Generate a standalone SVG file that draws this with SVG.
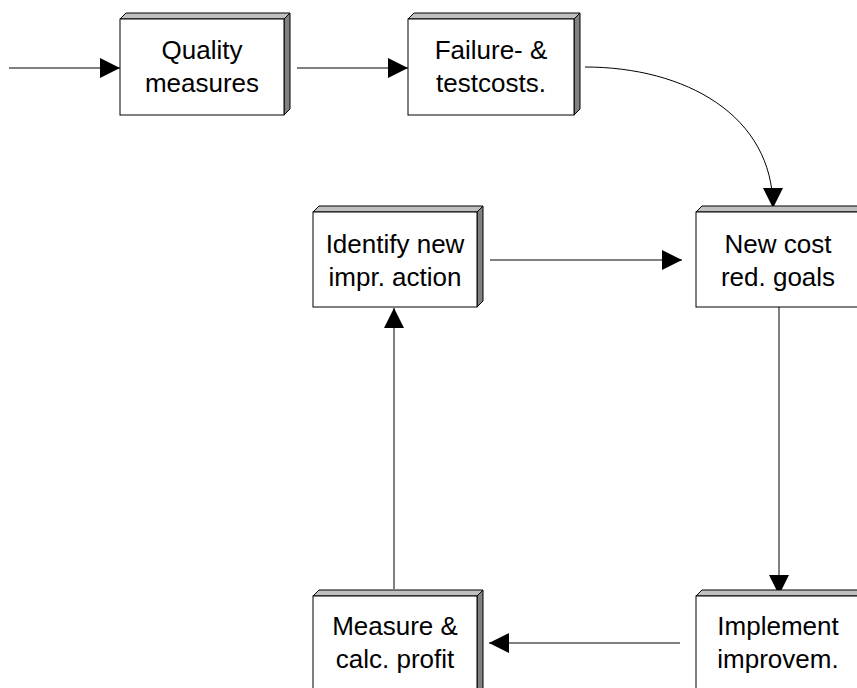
<svg xmlns="http://www.w3.org/2000/svg" width="857" height="688" viewBox="0 0 857 688">
<style>
.front{fill:#ffffff;stroke:#000;stroke-width:1}
.top{fill:#c0c0c0;stroke:#000;stroke-width:1}
.side{fill:#808080;stroke:#000;stroke-width:1}
.lbl{font-family:"Liberation Sans",Arial,sans-serif;font-size:26px;fill:#000;text-anchor:middle}
.conn{fill:none;stroke:#000;stroke-width:1}
</style>
<defs>
<marker id="arr" markerUnits="userSpaceOnUse" markerWidth="20" markerHeight="20" refX="20" refY="10" orient="auto">
<path d="M0,0 L20,10 L0,20 z" fill="#000"/>
</marker>
</defs>
<rect width="857" height="688" fill="#fff"/>
<g id="connectors">
<path class="conn" d="M9,68 H120" marker-end="url(#arr)"/>
<path class="conn" d="M297,68 H408" marker-end="url(#arr)"/>
<path class="conn" d="M585,67 C685,67 773,115 773,208" marker-end="url(#arr)"/>
<path class="conn" d="M490,260 H682" marker-end="url(#arr)"/>
<path class="conn" d="M779,307 V595" marker-end="url(#arr)"/>
<path class="conn" d="M680,643 H489" marker-end="url(#arr)"/>
<path class="conn" d="M394,589 V308" marker-end="url(#arr)"/>
</g>
<g id="quality">
<polygon class="top" points="120,19 126,13 290,13 284,19"/>
<polygon class="side" points="284,19 290,13 290,109 284,115"/>
<rect class="front" x="120" y="19" width="164" height="96"/>
<text class="lbl" x="202" y="59">Quality</text>
<text class="lbl" x="202" y="92">measures</text>
</g>
<g id="failure">
<polygon class="top" points="408,19 414,13 580,13 574,19"/>
<polygon class="side" points="574,19 580,13 580,109 574,115"/>
<rect class="front" x="408" y="19" width="166" height="96"/>
<text class="lbl" x="491" y="59">Failure- &amp;</text>
<text class="lbl" x="491" y="92">testcosts.</text>
</g>
<g id="identify">
<polygon class="top" points="313,212 319,206 483,206 477,212"/>
<polygon class="side" points="477,212 483,206 483,301 477,307"/>
<rect class="front" x="313" y="212" width="164" height="95"/>
<text class="lbl" x="395" y="253">Identify new</text>
<text class="lbl" x="395" y="286">impr. action</text>
</g>
<g id="newcost">
<polygon class="top" points="696,212 702,206 866,206 860,212"/>
<polygon class="side" points="860,212 866,206 866,301 860,307"/>
<rect class="front" x="696" y="212" width="164" height="95"/>
<text class="lbl" x="778" y="253">New cost</text>
<text class="lbl" x="778" y="286">red. goals</text>
</g>
<g id="measure">
<polygon class="top" points="313,596 319,590 483,590 477,596"/>
<polygon class="side" points="477,596 483,590 483,700 477,706"/>
<rect class="front" x="313" y="596" width="164" height="110"/>
<text class="lbl" x="395" y="635">Measure &amp;</text>
<text class="lbl" x="395" y="668">calc. profit</text>
</g>
<g id="implement">
<polygon class="top" points="696,596 702,590 866,590 860,596"/>
<polygon class="side" points="860,596 866,590 866,700 860,706"/>
<rect class="front" x="696" y="596" width="164" height="110"/>
<text class="lbl" x="778" y="635">Implement</text>
<text class="lbl" x="778" y="668">improvem.</text>
</g>
</svg>
